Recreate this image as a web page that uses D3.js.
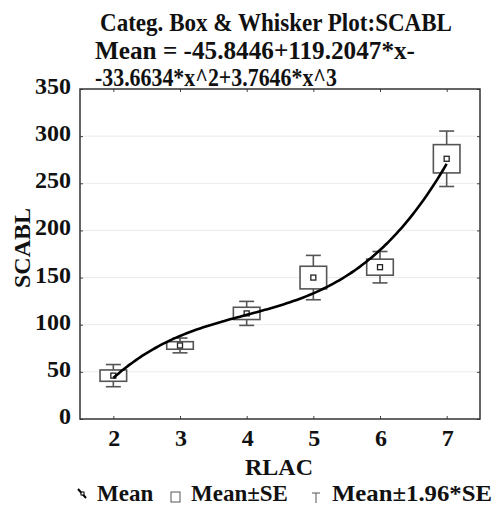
<!DOCTYPE html>
<html>
<head>
<meta charset="utf-8">
<script src="https://cdn.jsdelivr.net/npm/d3@7"></script>
<style>
  body { margin: 0; background: #fff; }
  text { font-family: "Liberation Serif", "Times New Roman", serif; font-weight: bold; fill: #111; }
</style>
</head>
<body>
<script>
window.onload = () => {

    var width = 496;
    var height = 506;

    // data
    var categories = [2, 3, 4, 5, 6, 7];
    var means = [46, 78, 112, 150, 161, 276];
    var se = [6, 4, 6.5, 12, 8.5, 15];
    var yTicks = [0, 50, 100, 150, 200, 250, 300, 350];
    // fit from the title: Mean = c0 + c1*x + c2*x^2 + c3*x^3, x = category index (1..6)
    var coef = [-45.8446, 119.2047, -33.6634, 3.7646];

    var svg = d3.select("body").append("svg")
        .attr('width', width)
        .attr('height', height)

    var xscale = d3.scaleLinear()
        .domain([1.5, 7.5])
        .range([80, 480]);
    var yscale = d3.scaleLinear()
        .domain([0, 350])
        .range([419, 89]);

    // grid lines
    svg.append("g").selectAll("line").data(yTicks.slice(1, -1)).enter().append("line")
        .attr("x1", 81).attr("x2", 479)
        .attr("y1", d => yscale(d)).attr("y2", d => yscale(d))
        .style("stroke", "#ebebeb").style("stroke-width", 1)

    // inward ticks on all four sides
    var left = d3.axisRight(yscale).tickValues(yTicks).tickSize(3).tickFormat("");
    var right = d3.axisLeft(yscale).tickValues(yTicks).tickSize(3).tickFormat("");
    var bottom = d3.axisTop(xscale).tickValues(categories).tickSize(3).tickFormat("");
    var top = d3.axisBottom(xscale).tickValues(categories).tickSize(3).tickFormat("");
    [[left, "translate(80,0)"], [right, "translate(480,0)"], [bottom, "translate(0,419)"], [top, "translate(0,89)"]]
        .forEach(function (a) {
            var g = svg.append("g").attr("transform", a[1]).call(a[0]);
            g.select(".domain").remove();
            g.selectAll("line").style("stroke", "#444");
        })

    // frame
    svg.append("rect")
        .attr("x", 80).attr("y", 89).attr("width", 400).attr("height", 330)
        .style("fill", "none").style("stroke", "#333").style("stroke-width", 1.5)

    // tick labels
    svg.append("g").selectAll("text").data(yTicks).enter().append("text")
        .attr("x", 71).attr("y", d => yscale(d) + 5)
        .attr("text-anchor", "end")
        .style("font-size", "24px")
        .text(d => d)
    svg.append("g").selectAll("text").data(categories).enter().append("text")
        .attr("x", d => xscale(d) + 1).attr("y", 446)
        .attr("text-anchor", "middle")
        .style("font-size", "24px")
        .text(d => d)

    // whiskers (mean +- 1.96*SE)
    var boxes = svg.append("g").selectAll("g").data(categories).enter().append("g")
        .style("stroke", "#555").style("stroke-width", 1.6).style("fill", "none")
    boxes.append("line")
        .attr("x1", d => xscale(d)).attr("x2", d => xscale(d))
        .attr("y1", (d, i) => yscale(means[i] + 1.96 * se[i]))
        .attr("y2", (d, i) => yscale(means[i] - 1.96 * se[i]))
    boxes.append("line")
        .attr("x1", d => xscale(d) - 7.5).attr("x2", d => xscale(d) + 7.5)
        .attr("y1", (d, i) => yscale(means[i] + 1.96 * se[i]))
        .attr("y2", (d, i) => yscale(means[i] + 1.96 * se[i]))
    boxes.append("line")
        .attr("x1", d => xscale(d) - 7.5).attr("x2", d => xscale(d) + 7.5)
        .attr("y1", (d, i) => yscale(means[i] - 1.96 * se[i]))
        .attr("y2", (d, i) => yscale(means[i] - 1.96 * se[i]))
    // boxes (mean +- SE)
    boxes.append("rect")
        .attr("x", d => xscale(d) - 13.3).attr("width", 26.6)
        .attr("y", (d, i) => yscale(means[i] + se[i]))
        .attr("height", (d, i) => yscale(means[i] - se[i]) - yscale(means[i] + se[i]))
        .style("fill", "#fff")
    // mean markers
    boxes.append("rect")
        .attr("x", d => xscale(d) - 2.5).attr("width", 5)
        .attr("y", (d, i) => yscale(means[i]) - 2.5).attr("height", 5)
        .style("fill", "#fff").style("stroke", "#222").style("stroke-width", 1.3)

    // fitted cubic
    var fx = [];
    for (var t = 2; t <= 7.0001; t += 0.05) fx.push(t);
    var fit = function (c) {
        var u = c - 1;
        return coef[0] + coef[1] * u + coef[2] * u * u + coef[3] * u * u * u;
    }
    svg.append("path")
        .datum(fx)
        .attr("d", d3.line().x(d => xscale(d)).y(d => yscale(fit(d))).curve(d3.curveMonotoneX))
        .style("fill", "none").style("stroke", "#000").style("stroke-width", 2.6)

    // titles
    var title = svg.append("g").style("font-size", "26px");
    title.append("text").attr("x", 100).attr("y", 31).attr("textLength", 352).attr("lengthAdjust", "spacingAndGlyphs")
        .text("Categ. Box & Whisker Plot:SCABL")
    title.append("text").attr("x", 95).attr("y", 59).attr("textLength", 320).attr("lengthAdjust", "spacingAndGlyphs")
        .text("Mean = -45.8446+119.2047*x-")
    title.append("text").attr("x", 95).attr("y", 86).attr("textLength", 242).attr("lengthAdjust", "spacingAndGlyphs")
        .text("-33.6634*x^2+3.7646*x^3")

    svg.append("text")
        .attr("x", 279).attr("y", 475)
        .attr("text-anchor", "middle")
        .style("font-size", "24px")
        .text("RLAC")
    svg.append("text")
        .attr("transform", "translate(30,248) rotate(-90)")
        .attr("text-anchor", "middle")
        .style("font-size", "24px")
        .text("SCABL")

    // legend
    var lg = svg.append("g");
    lg.append("line").attr("x1", 78).attr("y1", 489).attr("x2", 86).attr("y2", 498)
        .style("stroke", "#000").style("stroke-width", 2)
    lg.append("rect").attr("x", 81).attr("y", 492).attr("width", 3).attr("height", 3)
        .style("fill", "#fff").style("stroke", "#000").style("stroke-width", 1)
    lg.append("text").attr("x", 97).attr("y", 501).style("font-size", "23px").text("Mean")
    lg.append("rect").attr("x", 171).attr("y", 492).attr("width", 9).attr("height", 10)
        .style("fill", "none").style("stroke", "#555").style("stroke-width", 1)
    lg.append("text").attr("x", 191).attr("y", 501).style("font-size", "23px").text("Mean±SE")
    lg.append("line").attr("x1", 312).attr("y1", 493).attr("x2", 320).attr("y2", 493)
        .style("stroke", "#555").style("stroke-width", 1)
    lg.append("line").attr("x1", 316).attr("y1", 493).attr("x2", 316).attr("y2", 503)
        .style("stroke", "#555").style("stroke-width", 1)
    lg.append("text").attr("x", 332).attr("y", 501).attr("textLength", 160).attr("lengthAdjust", "spacingAndGlyphs")
        .style("font-size", "23px").text("Mean±1.96*SE")

}
</script>
</body>
</html>
